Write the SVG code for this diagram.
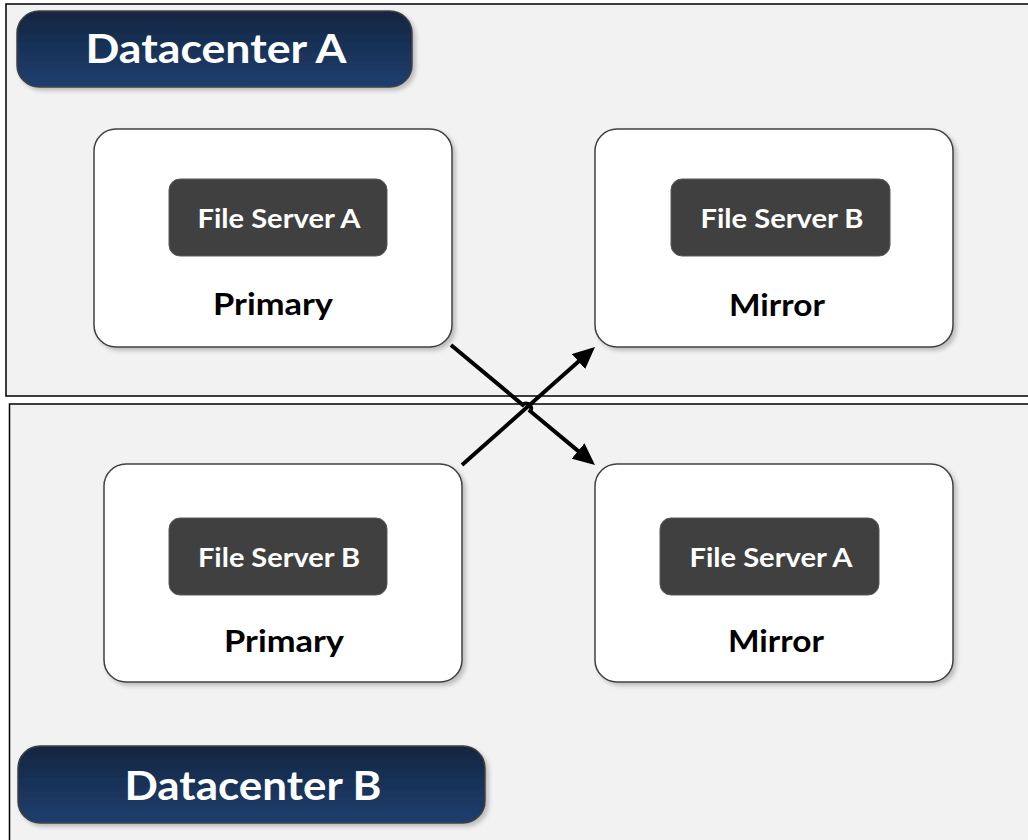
<svg xmlns="http://www.w3.org/2000/svg" width="1028" height="840" viewBox="0 0 1028 840">
  <defs>
    <linearGradient id="badgeGrad" x1="0" y1="0" x2="0" y2="1">
      <stop offset="0" stop-color="#132540"/>
      <stop offset="1" stop-color="#1f3f6f"/>
    </linearGradient>
    <filter id="shadow" x="-10%" y="-10%" width="130%" height="130%">
      <feDropShadow dx="3" dy="3" stdDeviation="2" flood-color="#000" flood-opacity="0.22"/>
    </filter>
    <marker id="arrow" markerUnits="userSpaceOnUse" markerWidth="22" markerHeight="20" refX="12" refY="10" orient="auto">
      <path d="M0,0 L22,10 L0,20 Z" fill="#000"/>
    </marker>
    <style>
      .container { fill: #f2f2f2; stroke: #000; stroke-width: 1.5; }
      .badge { fill: url(#badgeGrad); stroke: #404040; stroke-width: 1.5; filter: url(#shadow); }
      .badgeText { font-family: Lato, "Open Sans", "Liberation Sans", sans-serif; font-weight: bold; font-size: 40px; fill: #fff; text-anchor: middle; }
      .node { fill: #fff; stroke: #404040; stroke-width: 1.5; filter: url(#shadow); }
      .server { fill: #404040; stroke: #595959; stroke-width: 1; }
      .serverText { font-family: Lato, "Open Sans", "Liberation Sans", sans-serif; font-weight: bold; font-size: 26px; fill: #fff; text-anchor: middle; }
      .roleText { font-family: Lato, "Open Sans", "Liberation Sans", sans-serif; font-weight: bold; font-size: 30px; fill: #000; text-anchor: middle; }
      .conn { fill: none; stroke: #000; stroke-width: 4; marker-end: url(#arrow); }
    </style>
  </defs>

  <g id="datacenterA">
    <rect class="container" x="6" y="4" width="1030" height="392"/>
    <rect class="badge" x="17" y="11" width="395" height="76" rx="22" ry="22"/>
    <text class="badgeText" x="216" y="63" textLength="261" lengthAdjust="spacingAndGlyphs">Datacenter A</text>
  </g>

  <g id="datacenterB">
    <rect class="container" x="9.5" y="404" width="1030" height="450"/>
    <rect class="badge" x="18" y="746" width="467" height="77" rx="22" ry="22"/>
    <text class="badgeText" x="253" y="800" textLength="257" lengthAdjust="spacingAndGlyphs">Datacenter B</text>
  </g>

  <g id="nodeA-primary">
    <rect class="node" x="94" y="129" width="358" height="218" rx="22" ry="22"/>
    <rect class="server" x="169" y="179" width="218" height="77" rx="11" ry="11"/>
    <text class="serverText" x="279" y="228" textLength="163" lengthAdjust="spacingAndGlyphs">File Server A</text>
    <text class="roleText" x="273" y="315" textLength="120" lengthAdjust="spacingAndGlyphs">Primary</text>
  </g>

  <g id="nodeB-mirror">
    <rect class="node" x="595" y="129" width="358" height="218" rx="22" ry="22"/>
    <rect class="server" x="671" y="179" width="219" height="77" rx="11" ry="11"/>
    <text class="serverText" x="782" y="228" textLength="163" lengthAdjust="spacingAndGlyphs">File Server B</text>
    <text class="roleText" x="777" y="316" textLength="96" lengthAdjust="spacingAndGlyphs">Mirror</text>
  </g>

  <g id="nodeB-primary">
    <rect class="node" x="104" y="464" width="358" height="218" rx="22" ry="22"/>
    <rect class="server" x="169" y="518" width="218" height="77" rx="11" ry="11"/>
    <text class="serverText" x="279" y="567" textLength="162" lengthAdjust="spacingAndGlyphs">File Server B</text>
    <text class="roleText" x="284" y="652" textLength="120" lengthAdjust="spacingAndGlyphs">Primary</text>
  </g>

  <g id="nodeA-mirror">
    <rect class="node" x="595" y="464" width="358" height="218" rx="22" ry="22"/>
    <rect class="server" x="660" y="518" width="219" height="77" rx="11" ry="11"/>
    <text class="serverText" x="771" y="567" textLength="163" lengthAdjust="spacingAndGlyphs">File Server A</text>
    <text class="roleText" x="776" y="652" textLength="96" lengthAdjust="spacingAndGlyphs">Mirror</text>
  </g>

  <g id="connectors">
    <path class="conn" d="M462,465 L587.5,353.6"/>
    <path class="conn" d="M451,345 L522.7,404.8 A5,5 0 0 1 530.3,411.2 L587.3,458.6"/>
  </g>
</svg>
